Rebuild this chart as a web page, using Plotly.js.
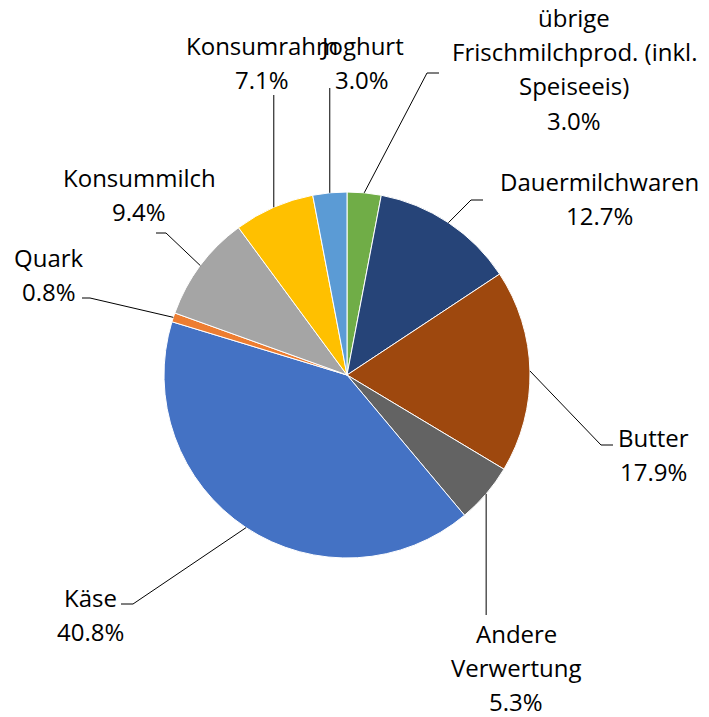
<!DOCTYPE html>
<html>
<head>
<meta charset="utf-8">
<script src="https://cdn.plot.ly/plotly-3.0.1.min.js"></script>
<style>html,body{margin:0;padding:0;background:#fff}</style>
</head>
<body>
<div id="chart" style="width:709px;height:717px"></div>
<script>
// ---- data (clockwise from 12 o'clock) ----
const categories = ['übrige Frischmilchprod. (inkl. Speiseeis)', 'Dauermilchwaren', 'Butter', 'Andere Verwertung', 'Käse', 'Quark', 'Konsummilch', 'Konsumrahm', 'Joghurt'];
const labelLines = [['übrige', 'Frischmilchprod. (inkl.', 'Speiseeis)'], ['Dauermilchwaren'], ['Butter'], ['Andere', 'Verwertung'], ['Käse'], ['Quark'], ['Konsummilch'], ['Konsumrahm'], ['Joghurt']];
const shares = [3.0, 12.7, 17.9, 5.3, 40.8, 0.8, 9.4, 7.1, 3.0];
const colors = ['#70AD47', '#264478', '#9E480E', '#636363', '#4472C4', '#ED7D31', '#A5A5A5', '#FFC000', '#5B9BD5'];

// ---- layout constants (pixels) ----
const W = 709, H = 717;
const CX = 347, CY = 375, R = 183;
const FS = 24, LS = 34;
// label block: centre x, first-line centre y; leader: bend point and end point (null x => vertical from edge)
const labelPos = [
  {x: 574, y: 18,  bend: [427, 73],  end: [439, 73]},
  {x: 599, y: 181, bend: [471, 200], end: [483, 200]},
  {x: 653, y: 437, bend: [601, 445], end: [613, 445]},
  {x: 516, y: 633, bend: [null, 615], end: null},
  {x: 90,  y: 597, bend: [133, 604], end: [121, 604]},
  {x: 49,  y: 257, bend: [90, 298],  end: [82, 298]},
  {x: 139, y: 177, bend: [166, 233], end: [156, 233]},
  {x: 262, y: 45,  bend: [null, 95], end: null},
  {x: 362, y: 45,  bend: [null, 88], end: null}
];

const px = x => x / W;
const py = y => 1 - y / H;

const total = shares.reduce((a, b) => a + b, 0);
const annotations = [];
const shapes = [];
let cum = 0;
shares.forEach((v, i) => {
  const mid = (cum + v / 2) / total * 2 * Math.PI;
  cum += v;
  const ex = CX + R * Math.sin(mid);
  const ey = CY - R * Math.cos(mid);
  const p = labelPos[i];
  const bx = p.bend[0] === null ? ex : p.bend[0];
  const by = p.bend[1];
  shapes.push({type: 'line', xref: 'paper', yref: 'paper', x0: px(ex), y0: py(ey), x1: px(bx), y1: py(by), line: {color: '#000', width: 1}});
  if (p.end) {
    shapes.push({type: 'line', xref: 'paper', yref: 'paper', x0: px(bx), y0: py(by), x1: px(p.end[0]), y1: py(p.end[1]), line: {color: '#000', width: 1}});
  }
  const lines = labelLines[i].concat([v.toFixed(1) + '%']);
  lines.forEach((t, k) => {
    annotations.push({
      xref: 'paper', yref: 'paper', x: px(p.x), y: py(p.y + k * LS),
      xanchor: 'center', yanchor: 'middle', showarrow: false,
      text: t, font: {family: 'Open Sans', size: FS, color: '#000'}
    });
  });
});

const trace = {
  type: 'pie',
  labels: categories,
  values: shares,
  sort: false,
  direction: 'clockwise',
  rotation: 0,
  textinfo: 'none',
  hoverinfo: 'label+percent',
  marker: {colors: colors, line: {color: '#fff', width: 1}},
  domain: {x: [px(CX - R), px(CX + R)], y: [py(CY + R), py(CY - R)]},
  showlegend: false
};

const layout = {
  width: W, height: H,
  margin: {l: 0, r: 0, t: 0, b: 0},
  paper_bgcolor: '#fff',
  showlegend: false,
  annotations: annotations,
  shapes: shapes
};

Plotly.newPlot('chart', [trace], layout, {displayModeBar: false, staticPlot: true});
</script>
</body>
</html>
